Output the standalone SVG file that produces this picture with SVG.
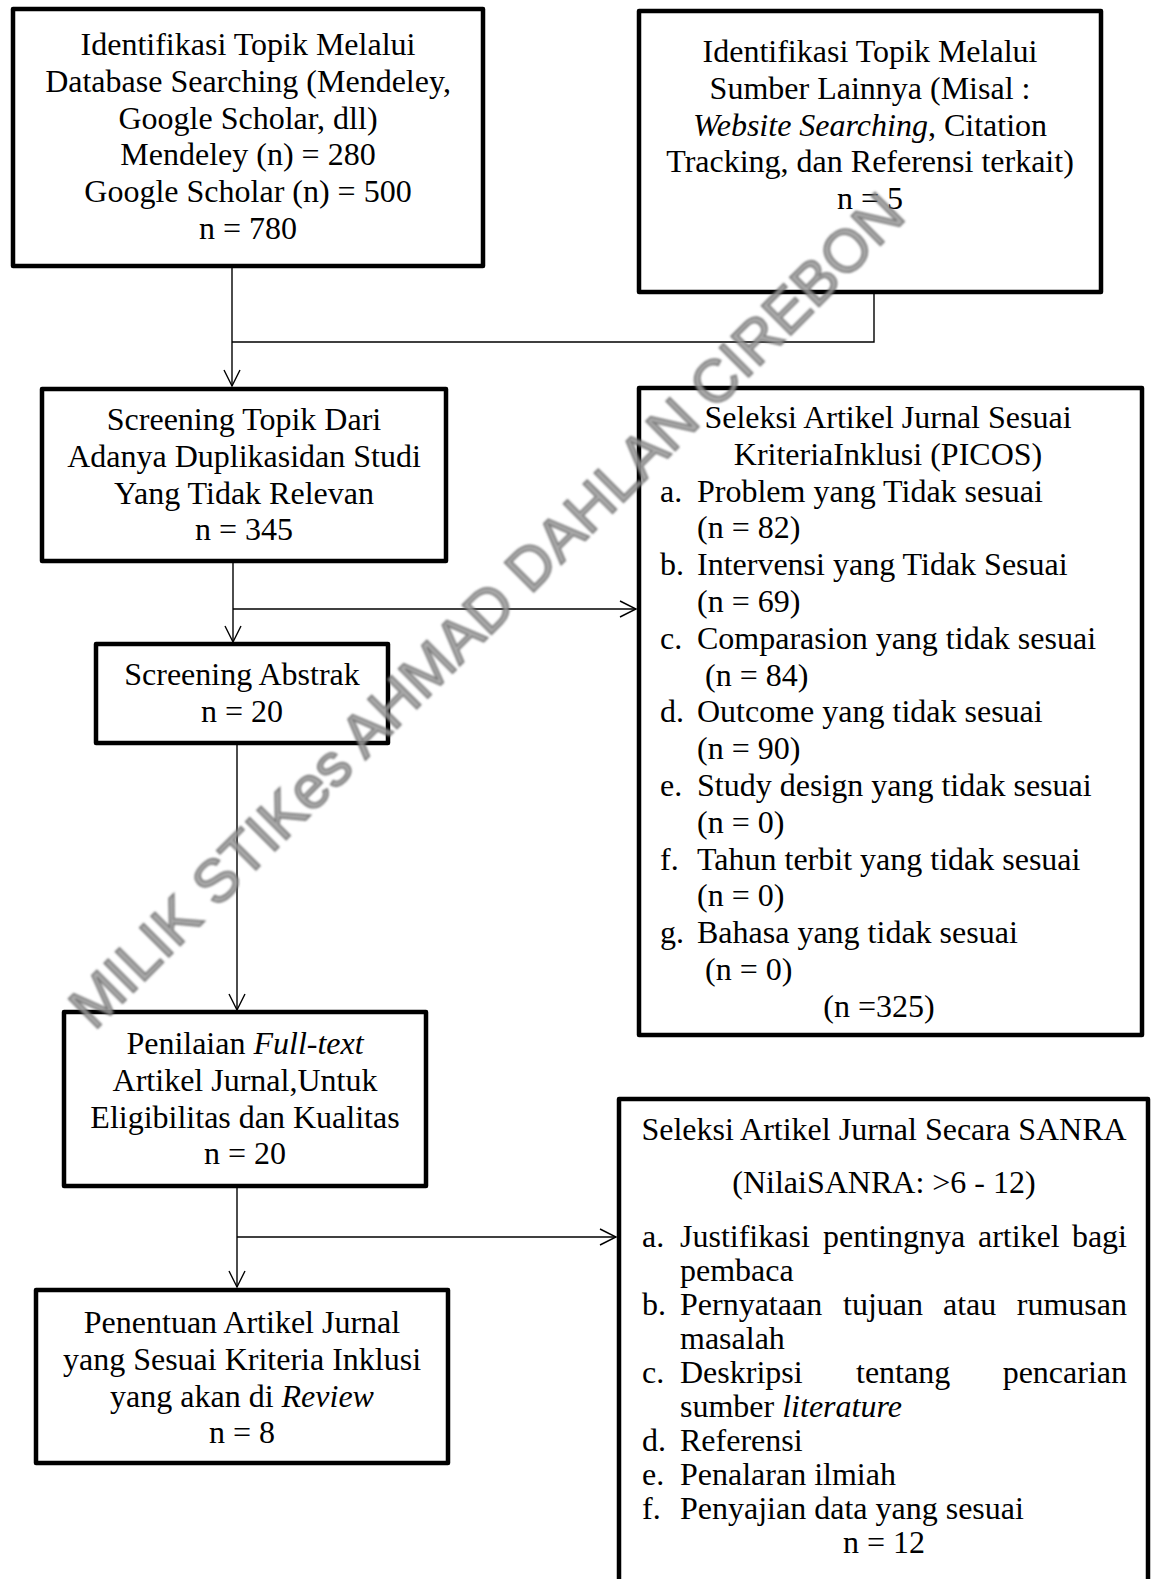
<svg xmlns="http://www.w3.org/2000/svg" width="1152" height="1579" viewBox="0 0 1152 1579">
<style>
.box{fill:none;stroke:#000;stroke-width:4.5;stroke-linejoin:round}
.t{font-family:"Liberation Serif","Times New Roman",serif;font-size:32px;fill:#000}
.c{text-anchor:middle}
.e{text-anchor:end}
.i{font-style:italic}
.ln{fill:none;stroke:#000;stroke-width:1.4}
.wm{font-family:"Liberation Sans",Arial,sans-serif;font-size:60px;fill:#9a9a9a;fill-opacity:0.85;stroke:#555;stroke-width:1.6;stroke-opacity:0.75}
</style>
<defs>
<marker id="arr" markerUnits="userSpaceOnUse" markerWidth="20" markerHeight="20" refX="17" refY="9" orient="auto">
<path d="M1,1 L17,9 L1,17" fill="none" stroke="#000" stroke-width="1.4"/>
</marker>
<filter id="soft" x="-5%" y="-5%" width="110%" height="110%"><feGaussianBlur stdDeviation="1.2"/></filter>
</defs>
<rect width="1152" height="1579" fill="#fff"/>

<g id="connectors">
<path class="ln" d="M232,266 V386" marker-end="url(#arr)"/>
<path class="ln" d="M874,292 V342 H232"/>
<path class="ln" d="M233,561 V642" marker-end="url(#arr)"/>
<path class="ln" d="M233,609 H636" marker-end="url(#arr)"/>
<path class="ln" d="M237,743 V1010" marker-end="url(#arr)"/>
<path class="ln" d="M237,1186 V1287" marker-end="url(#arr)"/>
<path class="ln" d="M237,1237 H616" marker-end="url(#arr)"/>
</g>

<g id="n1">
<rect class="box" x="13" y="9" width="470" height="257"/>
<text class="t c" x="248" y="55">Identifikasi Topik Melalui</text>
<text class="t c" x="248" y="91.8">Database Searching (Mendeley,</text>
<text class="t c" x="248" y="128.6">Google Scholar, dll)</text>
<text class="t c" x="248" y="165.4">Mendeley (n) = 280</text>
<text class="t c" x="248" y="202.2">Google Scholar (n) = 500</text>
<text class="t c" x="248" y="239">n = 780</text>
</g>

<g id="n2">
<rect class="box" x="639" y="11" width="462" height="281"/>
<text class="t c" x="870" y="62">Identifikasi Topik Melalui</text>
<text class="t c" x="870" y="98.8">Sumber Lainnya (Misal :</text>
<text class="t c" x="870" y="135.6"><tspan class="i">Website Searching</tspan>, Citation</text>
<text class="t c" x="870" y="172.4">Tracking, dan Referensi terkait)</text>
<text class="t c" x="870" y="209.2">n = 5</text>
</g>

<g id="n3">
<rect class="box" x="42" y="389" width="404" height="172"/>
<text class="t c" x="244" y="430">Screening Topik Dari</text>
<text class="t c" x="244" y="466.8">Adanya Duplikasidan Studi</text>
<text class="t c" x="244" y="503.6">Yang Tidak Relevan</text>
<text class="t c" x="244" y="540.4">n = 345</text>
</g>

<g id="n4">
<rect class="box" x="639" y="388" width="503" height="647"/>
<text class="t c" x="888" y="428">Seleksi Artikel Jurnal Sesuai</text>
<text class="t c" x="888" y="464.8">KriteriaInklusi (PICOS)</text>
<text class="t" x="660" y="501.6">a.</text><text class="t" x="697" y="501.6">Problem yang Tidak sesuai</text>
<text class="t" x="697" y="538.4">(n = 82)</text>
<text class="t" x="660" y="575.2">b.</text><text class="t" x="697" y="575.2">Intervensi yang Tidak Sesuai</text>
<text class="t" x="697" y="612">(n = 69)</text>
<text class="t" x="660" y="648.8">c.</text><text class="t" x="697" y="648.8">Comparasion yang tidak sesuai</text>
<text class="t" x="705" y="685.6">(n = 84)</text>
<text class="t" x="660" y="722.4">d.</text><text class="t" x="697" y="722.4">Outcome yang tidak sesuai</text>
<text class="t" x="697" y="759.2">(n = 90)</text>
<text class="t" x="660" y="796">e.</text><text class="t" x="697" y="796">Study design yang tidak sesuai</text>
<text class="t" x="697" y="832.8">(n = 0)</text>
<text class="t" x="660" y="869.6">f.</text><text class="t" x="697" y="869.6">Tahun terbit yang tidak sesuai</text>
<text class="t" x="697" y="906.4">(n = 0)</text>
<text class="t" x="660" y="943.2">g.</text><text class="t" x="697" y="943.2">Bahasa yang tidak sesuai</text>
<text class="t" x="705" y="980">(n = 0)</text>
<text class="t c" x="879" y="1016.8">(n =325)</text>
</g>

<g id="n5">
<rect class="box" x="96" y="644" width="292" height="99"/>
<text class="t c" x="242" y="685">Screening Abstrak</text>
<text class="t c" x="242" y="721.8">n = 20</text>
</g>

<g id="n6">
<rect class="box" x="64" y="1012" width="362" height="174"/>
<text class="t c" x="245" y="1054">Penilaian <tspan class="i">Full-text</tspan></text>
<text class="t c" x="245" y="1090.8">Artikel Jurnal,Untuk</text>
<text class="t c" x="245" y="1127.6">Eligibilitas dan Kualitas</text>
<text class="t c" x="245" y="1164.4">n = 20</text>
</g>

<g id="n7">
<rect class="box" x="36" y="1290" width="412" height="173"/>
<text class="t c" x="242" y="1333">Penentuan Artikel Jurnal</text>
<text class="t c" x="242" y="1369.8">yang Sesuai Kriteria Inklusi</text>
<text class="t c" x="242" y="1406.6">yang akan di <tspan class="i">Review</tspan></text>
<text class="t c" x="242" y="1443.4">n = 8</text>
</g>

<g id="n8">
<rect class="box" x="619" y="1099" width="529" height="530"/>
<text class="t c" x="884" y="1140">Seleksi Artikel Jurnal Secara SANRA</text>
<text class="t c" x="884" y="1193">(NilaiSANRA: &gt;6 - 12)</text>
<text class="t" x="642" y="1247">a.</text>
<text class="t" x="680" y="1247">Justifikasi</text><text class="t" x="823" y="1247">pentingnya</text><text class="t" x="978" y="1247">artikel</text><text class="t e" x="1127" y="1247">bagi</text>
<text class="t" x="680" y="1281">pembaca</text>
<text class="t" x="642" y="1315">b.</text>
<text class="t" x="680" y="1315">Pernyataan</text><text class="t" x="843" y="1315">tujuan</text><text class="t" x="943" y="1315">atau</text><text class="t e" x="1127" y="1315">rumusan</text>
<text class="t" x="680" y="1349">masalah</text>
<text class="t" x="642" y="1383">c.</text>
<text class="t" x="680" y="1383">Deskripsi</text><text class="t" x="856" y="1383">tentang</text><text class="t e" x="1127" y="1383">pencarian</text>
<text class="t" x="680" y="1417">sumber <tspan class="i">literature</tspan></text>
<text class="t" x="642" y="1451">d.</text><text class="t" x="680" y="1451">Referensi</text>
<text class="t" x="642" y="1485">e.</text><text class="t" x="680" y="1485">Penalaran ilmiah</text>
<text class="t" x="642" y="1519">f.</text><text class="t" x="680" y="1519">Penyajian data yang sesuai</text>
<text class="t c" x="884" y="1553">n = 12</text>
</g>

<g id="watermark" filter="url(#soft)">
<text class="wm" text-anchor="middle" transform="translate(486,610) rotate(-45)" x="0" y="21">MILIK STIKes AHMAD DAHLAN CIREBON</text>
</g>
</svg>
